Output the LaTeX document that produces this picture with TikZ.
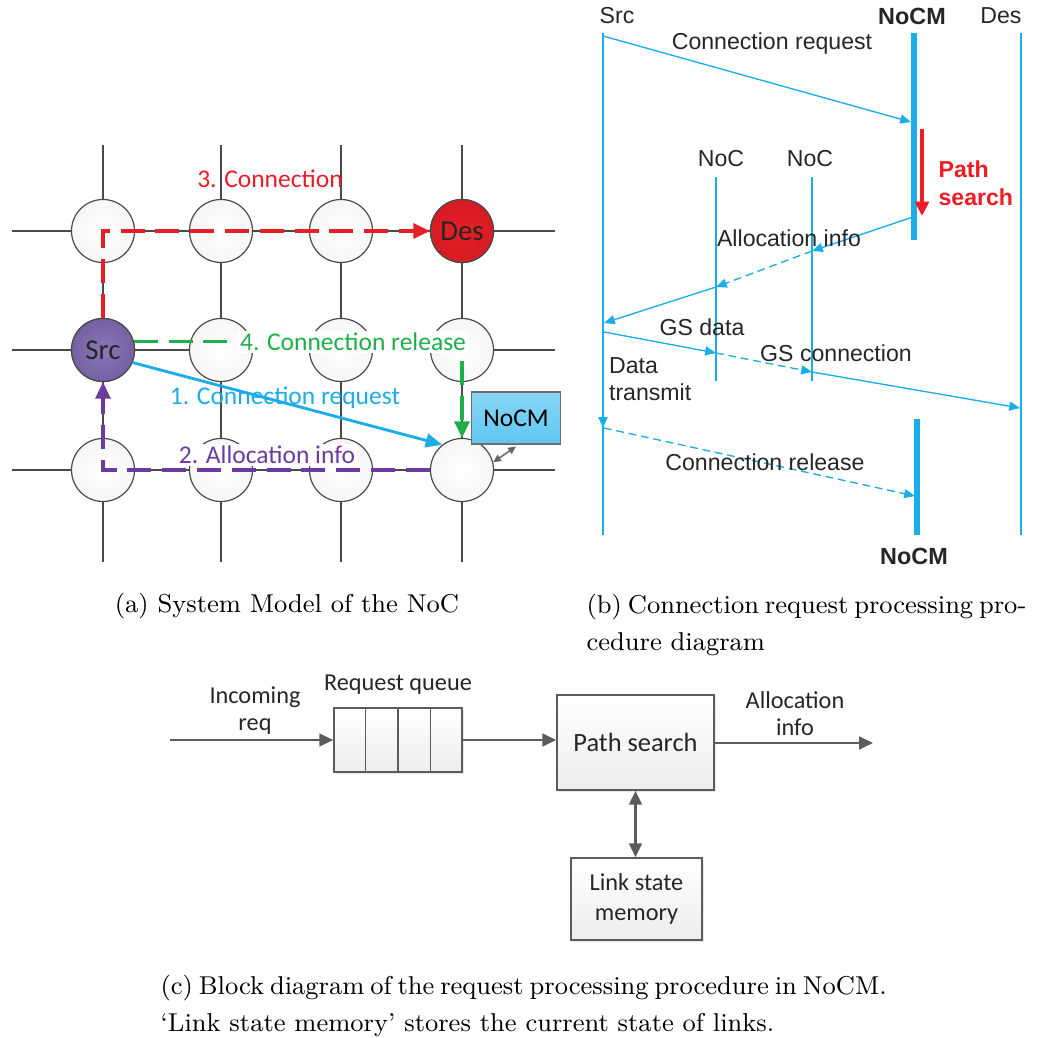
\documentclass[tikz,border=0pt]{standalone}
\usepackage{fontspec}
\usetikzlibrary{arrows.meta,shadows,calc}
\newfontfamily\calibri{Carlito}
\newfontfamily\arial{Liberation Sans}

\definecolor{gridgray}{HTML}{4A4A4A}
\definecolor{seqblue}{HTML}{1AAEE6}
\definecolor{srcpurple}{HTML}{7660A2}
\definecolor{srcpurplelt}{HTML}{8A76B6}
\definecolor{desred}{HTML}{E81E26}
\definecolor{pathred}{HTML}{EE1C25}
\definecolor{relgreen}{HTML}{1FAF4A}
\definecolor{allocpurple}{HTML}{6B3B9E}
\definecolor{reqblue}{HTML}{1CADE8}
\definecolor{nocmtop}{HTML}{8AD6F5}
\definecolor{nocmbot}{HTML}{5EC6F0}
\definecolor{blockgray}{HTML}{5C5C5C}

\begin{document}
\begin{tikzpicture}[x=0.3333pt,y=-0.3333pt,
  gridline/.style={draw=gridgray,line width=0.55pt},
  router/.style={circle,draw=gridgray,line width=0.4pt,minimum size=21pt,inner sep=0pt,
    inner color=white,outer color=gray!7},
  lblA/.style={font=\calibri\fontsize{8.5}{10}\selectfont,inner sep=0.6pt},
  conn/.style={line width=1.05pt,dash pattern=on 8pt off 3.6pt,
    -{Triangle[length=5.5pt,width=5pt]}},
  nocm/.style={draw=gridgray!80,line width=0.4pt,top color=nocmtop,bottom color=nocmbot,
    minimum width=29.7pt,minimum height=17.3pt,inner sep=0pt,
    font=\calibri\fontsize{8.5}{10}\selectfont},
  life/.style={draw=seqblue,line width=0.45pt},
  actbar/.style={draw=seqblue,line width=1.7pt},
  msg/.style={draw=seqblue,line width=0.45pt,-{Triangle[length=3.6pt,width=3pt]}},
  msgd/.style={msg,dash pattern=on 2.6pt off 1.6pt},
  lblB/.style={font=\arial\fontsize{7.7}{9}\selectfont,text=black!85,inner sep=0.5pt},
  lblBb/.style={font=\arial\bfseries\fontsize{7.8}{9}\selectfont,text=black!85,inner sep=0.5pt},
  blockbox/.style={draw=blockgray,line width=0.5pt,top color=white,bottom color=gray!14,
    drop shadow={shadow xshift=0.8pt,shadow yshift=-0.8pt,opacity=0.18},inner sep=0pt},
  lblC/.style={font=\calibri\fontsize{8.1}{9}\selectfont,text=black!85,inner sep=0.5pt},
  garrow/.style={draw=blockgray,line width=0.8pt,-{Triangle[length=4.6pt,width=4.2pt]}},
  gdbl/.style={draw=blockgray,line width=0.8pt,{Triangle[length=4.6pt,width=4.2pt]}-{Triangle[length=4.6pt,width=4.2pt]}},
  capt/.style={font=\fontsize{8.6}{12.2}\selectfont,inner sep=0pt}
]
\useasboundingbox (0,0) rectangle (1051,1038);

% ---------------- (a) mesh of routers ----------------
\foreach \y in {231,350,470} \draw[gridline] (12,\y) -- (555,\y);
\foreach \x in {103,221,341,462} \draw[gridline] (\x,145) -- (\x,562);

\foreach \r/\y in {1/231,2/350,3/470}
  \foreach \c/\x in {1/103,2/221,3/341,4/462}
    \node[router] (r\r\c) at (\x,\y) {};

\node[router,inner color=srcpurplelt,outer color=srcpurple,
  font=\calibri\fontsize{9.6}{11}\selectfont,text=black!85] (src) at (103,350) {Src};
\node[router,inner color=desred,outer color=desred!92!black,
  font=\calibri\fontsize{9.6}{11}\selectfont,text=black!85] (des) at (462,231) {Des};

% 3. connection: Src up and across to Des
\draw[conn,color=desred] (src.north) |- (des.west);
% 4. connection release towards the NoCM router
\draw[conn,color=relgreen] (src.16) -| (r34.north);
\node[lblA,text=relgreen,fill=white] (l4) at (353,342) {4. Connection release};

% 2. allocation info back to Src
\node[lblA,text=allocpurple,fill=white] (l2) at (267,455) {2. Allocation info};
\draw[conn,color=allocpurple] (r34.west) -| (src.south);

% 1. connection request
\node[lblA,text=reqblue] (l1) at (285,398) {1. Connection request};
\draw[draw=reqblue,line width=0.95pt,-{Triangle[length=5.5pt,width=4.6pt]}]
  (src.-23) -- (r34.128);

\node[lblA,text=desred] (l3) at (270,179) {3. Connection};

% NoCM attached to the corner router
\node[nocm] (nocm) at (516,418) {NoCM};
\draw[draw=gridgray!85,line width=0.5pt,
  {Triangle[length=2.6pt,width=2.4pt]}-{Triangle[length=2.6pt,width=2.4pt]}]
  (r34.14) -- ($(nocm.south)+(0,2)$);

\node[capt,anchor=base] (capA) at (287,612) {(a) System Model of the NoC};

% ---------------- (b) sequence of messages ----------------
\node[lblB] (hsrc) at (617,16) {Src};
\node[lblBb] (hnocm) at (912,16) {NoCM};
\node[lblB] (hdes) at (1001,16) {Des};
\node[lblB] (hnoc1) at (721,159) {NoC};
\node[lblB] (hnoc2) at (810,159) {NoC};
\node[lblBb] (fnocm) at (914,556) {NoCM};

\coordinate (srcT) at (603,33);   \coordinate (srcB) at (603,535);
\coordinate (desT) at (1021,33);  \coordinate (desB) at (1021,535);
\coordinate (noc1T) at (716,177); \coordinate (noc1B) at (716,381);
\coordinate (noc2T) at (812,177); \coordinate (noc2B) at (812,381);
\coordinate (mgrT) at (914,33);   \coordinate (mgrB) at (914,240);
\coordinate (mgr2T) at (917,419); \coordinate (mgr2B) at (917,535);

\draw[life] (srcT) -- (srcB);
\draw[life] (desT) -- (desB);
\draw[life] (noc1T) -- (noc1B);
\draw[life] (noc2T) -- (noc2B);
\draw[actbar] (mgrT) -- (mgrB);
\draw[actbar] (mgr2T) -- (mgr2B);

% message end points on the lifelines
\coordinate (m1a) at (603,36);   \coordinate (m1b) at (911,122);
\coordinate (m2a) at (913,217);  \coordinate (m2b) at (812,251);
\coordinate (m2c) at (716,287);  \coordinate (m2d) at (604,323);
\coordinate (m3a) at (603,323);  \coordinate (m3b) at (603,428);
\coordinate (m4a) at (604,332);  \coordinate (m4b) at (716,353);
\coordinate (m4c) at (812,372);  \coordinate (m4d) at (1020,408);
\coordinate (m5a) at (604,428);  \coordinate (m5b) at (915,496);
\coordinate (ps1) at (922,129);  \coordinate (ps2) at (922,216);

\draw[msg] (m1a) -- (m1b);
\node[lblB] (tcreq) at (772,44) {Connection request};

\draw[draw=pathred,line width=1.3pt,-{Triangle[length=4.8pt,width=4.6pt]}] (ps1) -- (ps2);
\node[font=\arial\bfseries\fontsize{7.7}{9.3}\selectfont,text=pathred,align=left,
  anchor=west,inner sep=0pt] (tpath) at (938,183) {Path\\search};

\draw[msg] (m2a) -- (m2b);
\draw[msgd] (m2b) -- (m2c);
\draw[msg] (m2c) -- (m2d);
\node[lblB] (talloc) at (789,238) {Allocation info};

\draw[msg,line width=0.6pt] (m3a) -- (m3b);
\node[lblB,align=left,anchor=west,font=\arial\fontsize{7.7}{9}\selectfont] (tdata) at (607,379) {Data\\transmit};

\draw[msg] (m4a) -- (m4b);
\draw[msgd] (m4b) -- (m4c);
\draw[msg] (m4c) -- (m4d);
\node[lblB] (tgsd) at (702,327) {GS data};
\node[lblB] (tgsc) at (836,353) {GS connection};

\draw[msgd] (m5a) -- (m5b);
\node[lblB] (trel) at (765,462) {Connection release};

\node[capt,anchor=base west] (capB1) at (586,613)
  {\makebox[145.3pt][s]{(b) Connection request processing pro-}};
\node[capt,anchor=base west] (capB2) at (586,650) {cedure diagram};

% ---------------- (c) request processing blocks ----------------
\node[blockbox,minimum width=42.7pt,minimum height=21.3pt] (queue) at (398,740) {};
\foreach \f in {0.25,0.5,0.75}
  \draw[draw=blockgray,line width=0.5pt]
    ($(queue.north west)!\f!(queue.north east)$) -- ($(queue.south west)!\f!(queue.south east)$);
\node[blockbox,minimum width=52.3pt,minimum height=31.7pt,
  font=\calibri\fontsize{8.8}{10}\selectfont,text=black!85] (psearch) at (635.5,742.5) {Path search};
\node[blockbox,minimum width=43.7pt,minimum height=27.3pt,align=center,
  font=\calibri\fontsize{8.1}{10}\selectfont,text=black!85] (lsm) at (636.5,899) {Link state\\memory};

\coordinate (inreq) at (170,740);
\coordinate (outinfo) at (873,743);
\draw[garrow] (inreq) -- (queue.west);
\draw[garrow] (queue.east) -- (queue.east -| psearch.west);
\draw[garrow] (psearch.east |- outinfo) -- (outinfo);
\draw[gdbl] (psearch.south) -- (psearch.south |- lsm.north);

\node[lblC,align=center] (tin) at (255,711) {Incoming\\req};
\node[lblC] (tq) at (398,685) {Request queue};
\node[lblC,align=center] (tout) at (795,714) {Allocation\\info};

\node[capt,anchor=base west] (capC1) at (160,994)
  {\makebox[241.7pt][s]{(c) Block diagram of the request processing procedure in NoCM.}};
\node[capt,anchor=base west] (capC2) at (160,1031)
  {`Link state memory' stores the current state of links.};
\end{tikzpicture}
\end{document}
